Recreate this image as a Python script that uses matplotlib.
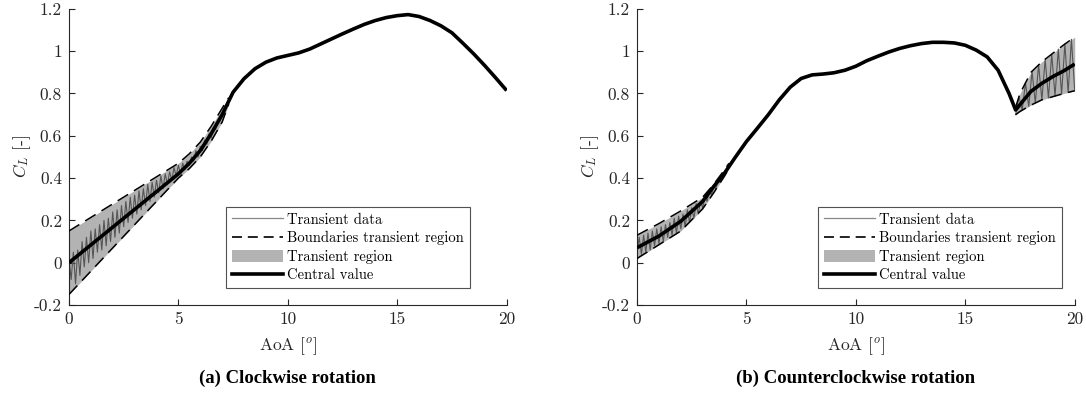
import matplotlib
matplotlib.use("Agg")
import matplotlib.pyplot as plt
from matplotlib.lines import Line2D
from matplotlib.patches import Patch

plt.rcParams['font.family'] = ['cmr10', 'DejaVu Serif']
plt.rcParams['mathtext.fontset'] = 'cm'
plt.rcParams['axes.unicode_minus'] = False

# ---------------- data ----------------
xticks = [0, 5, 10, 15, 20]
xtick_labels = ['0', '5', '10', '15', '20']
yticks = [-0.2, 0, 0.2, 0.4, 0.6, 0.8, 1.0, 1.2]
ytick_labels = ['-0.2', '0', '0.2', '0.4', '0.6', '0.8', '1', '1.2']

# (a) clockwise
cw_x = [0, 1, 2, 3, 4, 5, 5.5, 6, 6.5, 7, 7.5, 8, 8.5, 9, 9.5, 10, 10.5, 11, 11.5,
        12, 12.5, 13, 13.5, 14, 14.5, 15, 15.5, 16, 16.5, 17, 17.5, 18, 18.5, 19, 19.5, 20]
cw_central = [0.0, 0.084, 0.168, 0.252, 0.336, 0.42, 0.47, 0.53, 0.61, 0.70, 0.806, 0.87,
              0.917, 0.948, 0.968, 0.98, 0.992, 1.01, 1.034, 1.058, 1.082, 1.105, 1.127,
              1.145, 1.159, 1.168, 1.173, 1.164, 1.145, 1.12, 1.087, 1.038, 0.987, 0.932,
              0.874, 0.814]
cw_bound_x = [0, 1, 2, 3, 4, 5, 5.5, 6, 6.5, 7, 7.3]
cw_upper = [0.15, 0.214, 0.278, 0.342, 0.406, 0.47, 0.515, 0.57, 0.645, 0.73, 0.78]
cw_lower = [-0.15, -0.04, 0.07, 0.18, 0.29, 0.40, 0.445, 0.50, 0.575, 0.665, 0.75]
cw_tr_x = [0.0, 0.1, 0.2, 0.3, 0.4, 0.5, 0.6, 0.7, 0.8, 0.9, 1.0, 1.1, 1.2, 1.3, 1.4,
           1.5, 1.6, 1.7, 1.8, 1.9, 2.0, 2.1, 2.2, 2.3, 2.4, 2.5, 2.6, 2.7, 2.8, 2.9,
           3.0, 3.1, 3.2, 3.3, 3.4, 3.5, 3.6, 3.7, 3.8, 3.9, 4.0, 4.1, 4.2, 4.3, 4.4,
           4.5, 4.6, 4.7, 4.8, 4.9, 5.0, 5.1, 5.2, 5.3, 5.4, 5.5, 5.6, 5.7, 5.8, 5.9,
           6.0, 6.1, 6.2, 6.3, 6.4, 6.5, 6.6, 6.7, 6.8, 6.9, 7.0, 7.1, 7.2, 7.3]
cw_tr = [0.02, -0.08, 0.05, -0.10, 0.06, -0.06, 0.10, -0.02, 0.12, 0.00, 0.15, 0.02,
         0.16, 0.05, 0.18, 0.06, 0.20, 0.08, 0.21, 0.10, 0.24, 0.12, 0.25, 0.14, 0.27,
         0.17, 0.29, 0.19, 0.31, 0.21, 0.32, 0.23, 0.34, 0.25, 0.35, 0.27, 0.37, 0.29,
         0.38, 0.31, 0.39, 0.33, 0.41, 0.35, 0.42, 0.37, 0.43, 0.39, 0.45, 0.41, 0.46,
         0.42, 0.47, 0.44, 0.48, 0.46, 0.50, 0.48, 0.53, 0.50, 0.55, 0.53, 0.58, 0.56,
         0.61, 0.59, 0.64, 0.63, 0.67, 0.67, 0.71, 0.71, 0.75, 0.77]

# (b) counterclockwise
ccw_x = [0, 1, 2, 3, 3.5, 4, 4.5, 5, 5.5, 6, 6.5, 7, 7.5, 8, 8.5, 9, 9.5, 10, 10.5, 11,
         11.5, 12, 12.5, 13, 13.5, 14, 14.5, 15, 15.5, 16, 16.5, 17, 17.3, 17.6, 18,
         18.5, 19, 19.5, 20]
ccw_central = [0.071, 0.126, 0.196, 0.29, 0.36, 0.424, 0.50, 0.573, 0.636, 0.70, 0.77,
               0.83, 0.871, 0.888, 0.892, 0.898, 0.91, 0.929, 0.955, 0.976, 0.996, 1.013,
               1.026, 1.036, 1.042, 1.042, 1.039, 1.028, 1.005, 0.973, 0.91, 0.80, 0.722,
               0.76, 0.81, 0.848, 0.88, 0.907, 0.939]
ccw_bound1_x = [0, 1, 2, 3, 3.5, 4, 4.2]
ccw_upper1 = [0.13, 0.185, 0.245, 0.31, 0.37, 0.44, 0.47]
ccw_lower1 = [0.02, 0.085, 0.15, 0.255, 0.33, 0.41, 0.445]
ccw_tr1_x = [0.0, 0.1, 0.2, 0.3, 0.4, 0.5, 0.6, 0.7, 0.8, 0.9, 1.0, 1.1, 1.2, 1.3, 1.4,
             1.5, 1.6, 1.7, 1.8, 1.9, 2.0, 2.1, 2.2, 2.3, 2.4, 2.5, 2.6, 2.7, 2.8, 2.9,
             3.0, 3.1, 3.2, 3.3, 3.4, 3.5, 3.6, 3.7, 3.8, 3.9, 4.0, 4.1, 4.2]
ccw_tr1 = [0.05, 0.12, 0.04, 0.13, 0.05, 0.14, 0.06, 0.15, 0.08, 0.16, 0.09, 0.17, 0.10,
           0.18, 0.12, 0.19, 0.13, 0.21, 0.14, 0.22, 0.16, 0.23, 0.17, 0.25, 0.19, 0.26,
           0.21, 0.28, 0.23, 0.29, 0.26, 0.31, 0.29, 0.34, 0.32, 0.36, 0.35, 0.39, 0.38,
           0.42, 0.415, 0.445, 0.45]
ccw_bound2_x = [17.3, 17.5, 18, 18.5, 19, 19.5, 20]
ccw_upper2 = [0.735, 0.80, 0.90, 0.95, 0.99, 1.03, 1.067]
ccw_lower2 = [0.70, 0.715, 0.745, 0.77, 0.785, 0.80, 0.813]
ccw_tr2_x = [17.30, 17.45, 17.60, 17.75, 17.90, 18.05, 18.20, 18.35, 18.50, 18.65,
             18.80, 18.95, 19.10, 19.25, 19.40, 19.55, 19.70, 19.85, 20.00]
ccw_tr2 = [0.70, 0.785, 0.721, 0.85, 0.739, 0.905, 0.755, 0.935, 0.77, 0.962, 0.779,
           0.986, 0.788, 1.01, 0.797, 1.034, 0.805, 1.056, 0.813]

legend_labels = ['Transient data', 'Boundaries transient region', 'Transient region',
                 'Central value']
captions = ['(a) Clockwise rotation', '(b) Counterclockwise rotation']

# ---------------- style ----------------
FILL = '#b3b3b3'
TRC = '#555555'
DASH = (0, (8, 4.5))

fig = plt.figure(figsize=(10.86, 4.04), dpi=100)
ax1 = fig.add_axes([0.0635, 0.245, 0.403, 0.733])
ax2 = fig.add_axes([0.5866, 0.245, 0.403, 0.733])


def region(ax, bx, up, lo, tx, ty):
    ax.fill_between(bx, lo, up, color=FILL, lw=0, zorder=1)
    ax.plot(tx, ty, color=TRC, lw=0.8, zorder=2)
    ax.plot(bx, up, color='black', lw=1.1, linestyle=DASH, zorder=3)
    ax.plot(bx, lo, color='black', lw=1.1, linestyle=DASH, zorder=3)


region(ax1, cw_bound_x, cw_upper, cw_lower, cw_tr_x, cw_tr)
ax1.plot(cw_x, cw_central, color='black', lw=2.6, zorder=4, solid_capstyle='butt')

region(ax2, ccw_bound1_x, ccw_upper1, ccw_lower1, ccw_tr1_x, ccw_tr1)
region(ax2, ccw_bound2_x, ccw_upper2, ccw_lower2, ccw_tr2_x, ccw_tr2)
ax2.plot(ccw_x, ccw_central, color='black', lw=2.6, zorder=4, solid_capstyle='butt')

handles = [Line2D([], [], color='#888888', lw=0.9),
           Line2D([], [], color='black', lw=1.2, linestyle=(0, (6, 3.5))),
           Patch(facecolor=FILL, edgecolor='none'),
           Line2D([], [], color='black', lw=2.6)]

legend_anchor = [(0.916, 0.057), (0.970, 0.057)]

for ax, cap, anc, cx in zip([ax1, ax2], captions, legend_anchor, [0.2645, 0.788]):
    ax.set_xlim(0, 20)
    ax.set_ylim(-0.2, 1.2)
    ax.set_xticks(xticks)
    ax.set_xticklabels(xtick_labels)
    ax.set_yticks(yticks)
    ax.set_yticklabels(ytick_labels)
    ax.spines['top'].set_visible(False)
    ax.spines['right'].set_visible(False)
    for s in ('left', 'bottom'):
        ax.spines[s].set_linewidth(0.8)
        ax.spines[s].set_color('#262626')
    ax.tick_params(direction='in', length=4, width=0.8, labelsize=12.5,
                   colors='#262626', pad=5)
    ax.set_xlabel(r'AoA [$^o$]', fontsize=12.5, color='#262626', labelpad=6)
    ax.set_ylabel(r'$C_L$ [-]', fontsize=12.5, color='#262626', labelpad=1)
    leg = ax.legend(handles, legend_labels, loc='lower right', bbox_to_anchor=anc,
                    fontsize=10.5, frameon=True, fancybox=False, handlelength=3.5,
                    handleheight=0.9, handletextpad=0.3, labelspacing=0.3,
                    borderpad=0.4, borderaxespad=0.0)
    leg.get_frame().set_edgecolor('#262626')
    leg.get_frame().set_linewidth(0.8)
    fig.text(cx, 0.064, cap, ha='center', va='center', fontsize=13.5,
             fontweight='bold', family='Liberation Serif')

fig.savefig('out.png', dpi=100)
